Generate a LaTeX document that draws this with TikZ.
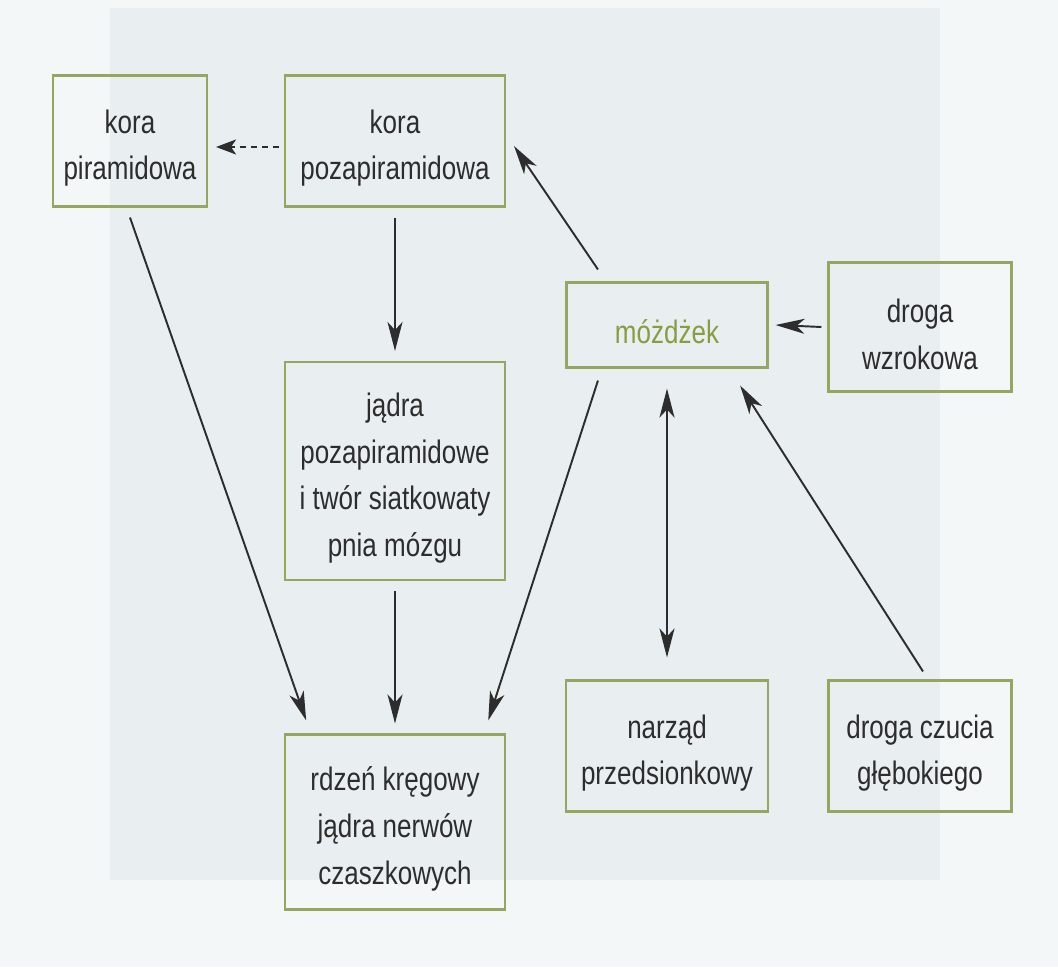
\documentclass[tikz,border=0pt]{standalone}
\usepackage{fontspec}
\setmainfont{Liberation Sans}[FakeStretch=0.8]
\usetikzlibrary{arrows.meta,calc}
\definecolor{ramka}{RGB}{150,166,96}
\definecolor{tekst}{RGB}{45,45,45}
\definecolor{tlo}{RGB}{233,239,241}
\definecolor{jasne}{RGB}{244,247,248}
\definecolor{oliwka}{RGB}{138,156,66}
\newcommand{\odstep}{\rule{0pt}{21.5pt}}
\begin{document}
\begin{tikzpicture}[x=0.02cm,y=-0.02cm,
  pole/.style={draw=ramka,line width=1.2pt,align=center,text=tekst,inner sep=0pt,
    font=\fontsize{18.5}{26.7}\selectfont},
  strz/.style={line width=1.1pt,draw=tekst,->,
    >={Stealth[length=0.58cm,width=0.3cm,inset=0.16cm]}}]
\useasboundingbox (0,0) rectangle (1058,967);
\fill[jasne] (0,0) rectangle (1058,967);
\fill[tlo] (110,8) rectangle (940,880);
\node[pole,minimum width=3.08cm,minimum height=2.62cm] (pir) at (130,141) {\odstep kora\\piramidowa};
\node[pole,minimum width=4.4cm,minimum height=2.62cm] (kpoza) at (395,141) {\odstep kora\\pozapiramidowa};
\node[pole,minimum width=4.4cm,minimum height=4.36cm] (jadra) at (395,471) {\odstep jądra\\pozapiramidowe\\i twór siatkowaty\\pnia mózgu};
\node[pole,minimum width=4.4cm,minimum height=3.5cm] (rdzen) at (395,822) {\odstep rdzeń kręgowy\\jądra nerwów\\czaszkowych};
\node[pole,minimum width=4.02cm,minimum height=1.7cm,text=oliwka] (mozdzek) at (667,325) {\odstep móżdżek};
\node[pole,minimum width=3.66cm,minimum height=2.58cm] (wzrok) at (920,327) {\odstep droga\\wzrokowa};
\node[pole,minimum width=4.04cm,minimum height=2.62cm] (narzad) at (667,746) {\odstep narząd\\przedsionkowy};
\node[pole,minimum width=3.66cm,minimum height=2.62cm] (czucie) at (920,746) {\odstep droga czucia\\głębokiego};
\draw[strz,dash pattern=on 0.12cm off 0.1cm,>={Stealth[length=0.4cm,width=0.3cm,inset=0.1cm]}] ($(kpoza.west)+(-5,6)$) -- ($(pir.east)+(8,6)$);
\draw[strz] ($(pir.south)+(0,10)$) -- ($(rdzen.north west)!0.1!(rdzen.north east)+(0,-13)$);
\draw[strz] ($(kpoza.south)+(0,10)$) -- ($(jadra.north)+(0,-10)$);
\draw[strz] ($(jadra.south)+(0,10)$) -- ($(rdzen.north)+(0,-10)$);
\draw[strz] ($(mozdzek.south west)!0.16!(mozdzek.south east)+(0,12)$) -- ($(rdzen.north west)!0.92!(rdzen.north east)+(0,-13)$);
\draw[strz] ($(mozdzek.north west)!0.16!(mozdzek.north east)+(0,-12)$) -- ($(kpoza.east)+(8,5)$);
\draw[strz] ($(wzrok.west)+(-6,0)$) -- ($(mozdzek.east)+(7,0)$);
\draw[strz,<->] ($(mozdzek.south)+(0,20)$) -- ($(narzad.north)+(0,-22)$);
\draw[strz] ($(czucie.north)+(3,-8)$) -- ($(mozdzek.south west)!0.86!(mozdzek.south east)+(0,17)$);
\end{tikzpicture}
\end{document}
